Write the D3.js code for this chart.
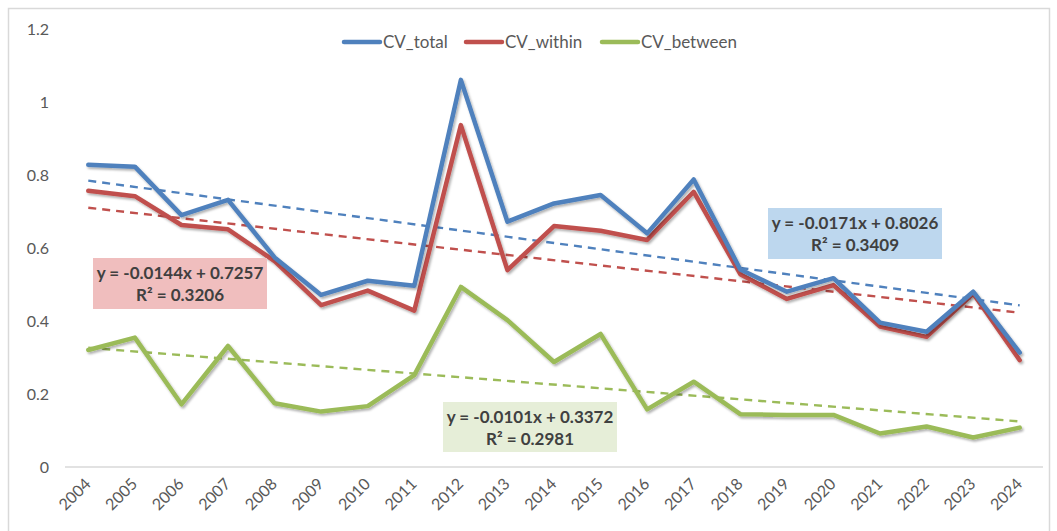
<!DOCTYPE html>
<html>
<head>
<meta charset="utf-8">
<script src="https://cdn.jsdelivr.net/npm/d3@7"></script>
<style>
  body { margin: 0; background: #fff; }
  svg { display: block; font-family: Lato, "Open Sans", sans-serif; }
</style>
</head>
<body>
<svg></svg>
<script>
const YEARS = ["2004","2005","2006","2007","2008","2009","2010","2011","2012","2013","2014",
  "2015","2016","2017","2018","2019","2020","2021","2022","2023","2024"];

const CV_TOTAL = [0.829, 0.824, 0.691, 0.733, 0.575, 0.472, 0.511, 0.497, 1.062, 0.673, 0.723,
  0.746, 0.641, 0.789, 0.542, 0.481, 0.518, 0.396, 0.371, 0.481, 0.314];
const CV_WITHIN = [0.758, 0.743, 0.664, 0.652, 0.565, 0.444, 0.484, 0.429, 0.938, 0.540, 0.661,
  0.648, 0.623, 0.755, 0.529, 0.461, 0.499, 0.385, 0.357, 0.476, 0.293];
const CV_BETWEEN = [0.321, 0.355, 0.172, 0.332, 0.175, 0.152, 0.167, 0.252, 0.494, 0.403, 0.288,
  0.365, 0.158, 0.234, 0.145, 0.143, 0.143, 0.092, 0.111, 0.081, 0.108];

const SERIES_NAMES = ["CV_total", "CV_within", "CV_between"];
// trendline slope / intercept, x = 1..21
const TREND_SLOPE = [-0.0171, -0.0144, -0.0101];
const TREND_INTERCEPT = [0.8026, 0.7257, 0.3372];
const TREND_R2 = ["0.3409", "0.3206", "0.2981"];

const Y_TICKS = [0, 0.2, 0.4, 0.6, 0.8, 1, 1.2];

const COLORS = ["#4F81BD", "#C0504D", "#9BBB59"];
const BOX_FILLS = ["#BDD7EE", "#F0BEBE", "#E6EED8"];

const WIDTH = 1057;
const HEIGHT = 531;
const PLOT_LEFT = 65;
const PLOT_RIGHT = 1043;
const PLOT_TOP = 29.6;
const PLOT_BOTTOM = 467;

const svg = d3.select("svg").attr("width", WIDTH).attr("height", HEIGHT);

const defs = svg.append("defs");
const shadow = defs.append("filter").attr("id", "shadow")
  .attr("x", "-5%").attr("y", "-5%").attr("width", "110%").attr("height", "120%");
shadow.append("feDropShadow")
  .attr("dx", 1.5).attr("dy", 2)
  .attr("stdDeviation", 1.3)
  .attr("flood-color", "#000")
  .attr("flood-opacity", 0.3);

//chart border
svg.append("rect")
  .attr("x", 8.5).attr("y", 8.5)
  .attr("width", 1041).attr("height", 540)
  .attr("fill", "#fff")
  .attr("stroke", "#D9D9D9")
  .attr("stroke-width", 1.5);

const xScale = d3.scalePoint()
  .domain(YEARS)
  .range([PLOT_LEFT, PLOT_RIGHT])
  .padding(0.5);

const yScale = d3.scaleLinear()
  .domain([0, 1.2])
  .range([PLOT_BOTTOM, PLOT_TOP]);

//y axis labels (no line)
const yAxis = svg.append("g")
  .attr("transform", `translate(${PLOT_LEFT - 16}, 0)`)
  .call(d3.axisLeft(yScale).tickValues(Y_TICKS).tickSize(0).tickPadding(0).tickFormat(d3.format("~g")));
yAxis.select(".domain").remove();
yAxis.selectAll("text")
  .attr("fill", "#595959")
  .style("font-size", "16px")
  .style("font-family", "Lato, 'Open Sans', sans-serif");

//x axis baseline
svg.append("line")
  .attr("x1", PLOT_LEFT).attr("x2", PLOT_RIGHT)
  .attr("y1", yScale(0)).attr("y2", yScale(0))
  .attr("stroke", "#D9D9D9")
  .attr("stroke-width", 1.5);

//x axis labels, rotated
const xAxis = svg.append("g")
  .attr("transform", `translate(0, ${PLOT_BOTTOM})`)
  .call(d3.axisBottom(xScale).tickSize(0).tickPadding(0));
xAxis.select(".domain").remove();
xAxis.selectAll("text")
  .attr("fill", "#595959")
  .style("font-size", "16px")
  .style("font-family", "Lato, 'Open Sans', sans-serif")
  .attr("text-anchor", "end")
  .attr("dy", null)
  .attr("y", null)
  .attr("transform", "translate(3, 18) rotate(-45)");

const allSeries = [CV_TOTAL, CV_WITHIN, CV_BETWEEN];

const line = d3.line()
  .x((d, i) => xScale(YEARS[i]))
  .y((d) => yScale(d));

//trendlines
allSeries.forEach((values, s) => {
  const ends = [1, YEARS.length].map((n) => ({
    year: YEARS[n - 1],
    value: TREND_SLOPE[s] * n + TREND_INTERCEPT[s],
  }));
  svg.append("line")
    .attr("x1", xScale(ends[0].year)).attr("y1", yScale(ends[0].value))
    .attr("x2", xScale(ends[1].year)).attr("y2", yScale(ends[1].value))
    .attr("stroke", COLORS[s])
    .attr("stroke-width", 2.4)
    .attr("stroke-dasharray", "8,6");
});

//series lines (drawn green, red, blue so blue is on top)
[2, 1, 0].forEach((s) => {
  svg.append("path")
    .datum(allSeries[s])
    .attr("d", line)
    .attr("fill", "none")
    .attr("stroke", COLORS[s])
    .attr("stroke-width", 4.5)
    .attr("stroke-linejoin", "round")
    .attr("stroke-linecap", "round")
    .attr("filter", "url(#shadow)");
});

//trend equation boxes
const BOX_POS = [
  { x: 768, y: 208, w: 174, h: 51 },
  { x: 93, y: 258, w: 174, h: 51 },
  { x: 443, y: 402, w: 174, h: 50 },
];
BOX_POS.forEach((b, s) => {
  const g = svg.append("g").attr("transform", `translate(${b.x}, ${b.y})`);
  g.append("rect")
    .attr("width", b.w).attr("height", b.h)
    .attr("fill", BOX_FILLS[s]);
  g.append("text")
    .attr("x", b.w / 2).attr("y", 21)
    .attr("text-anchor", "middle")
    .attr("fill", "#404040")
    .style("font-size", "17px")
    .style("font-weight", "bold")
    .text(`y = ${TREND_SLOPE[s].toFixed(4)}x + ${TREND_INTERCEPT[s].toFixed(4)}`);
  g.append("text")
    .attr("x", b.w / 2).attr("y", 43)
    .attr("text-anchor", "middle")
    .attr("fill", "#404040")
    .style("font-size", "17px")
    .style("font-weight", "bold")
    .text(`R² = ${TREND_R2[s]}`);
});

//legend
const LEGEND_X = [342, 464, 600];
const legend = svg.append("g").attr("transform", "translate(0, 42)");
SERIES_NAMES.forEach((name, s) => {
  legend.append("line")
    .attr("x1", LEGEND_X[s] + 2).attr("x2", LEGEND_X[s] + 38)
    .attr("stroke", COLORS[s])
    .attr("stroke-width", 4.5)
    .attr("stroke-linecap", "round");
  legend.append("text")
    .attr("x", LEGEND_X[s] + 41).attr("y", 6)
    .attr("fill", "#595959")
    .style("font-size", "17px")
    .text(name);
});
</script>
</body>
</html>
